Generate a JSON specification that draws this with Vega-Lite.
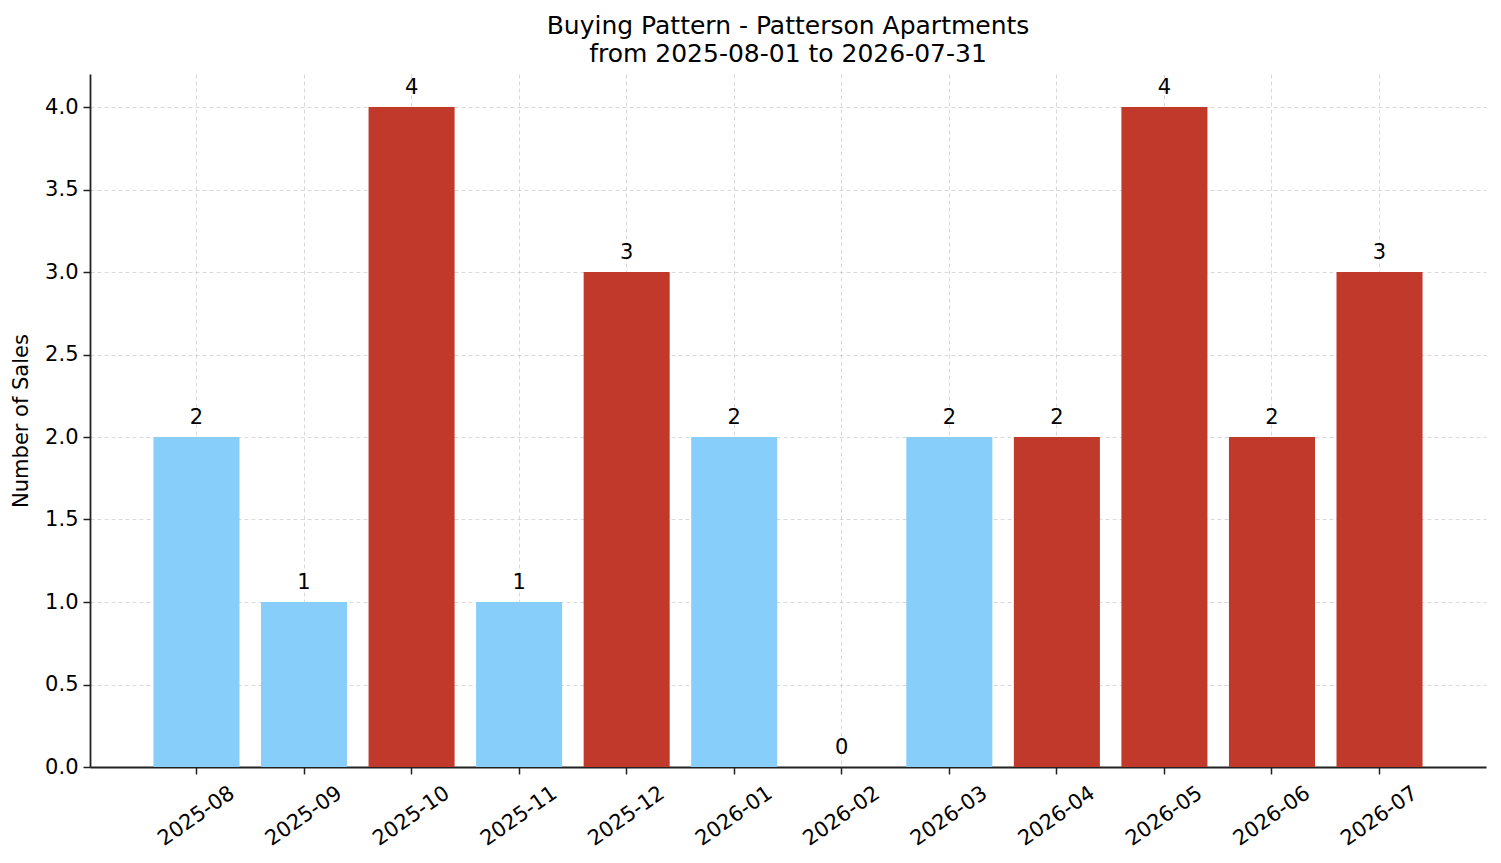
{
  "$schema": "https://vega.github.io/schema/vega-lite/v6.json",
  "width": 1396,
  "height": 693,
  "autosize": {"type": "none"},
  "padding": {"left": 90, "top": 74, "right": 15, "bottom": 96},
  "background": "white",
  "title": {
    "text": ["Buying Pattern - Patterson Apartments", "from 2025-08-01 to 2026-07-31"],
    "font": "DejaVu Sans",
    "fontSize": 25,
    "fontWeight": "normal",
    "lineHeight": 28,
    "color": "black",
    "anchor": "middle",
    "frame": "group",
    "offset": 7
  },
  "data": {
    "values": [
      {"month": "2025-08", "sales": 2, "category": "low"},
      {"month": "2025-09", "sales": 1, "category": "low"},
      {"month": "2025-10", "sales": 4, "category": "high"},
      {"month": "2025-11", "sales": 1, "category": "low"},
      {"month": "2025-12", "sales": 3, "category": "high"},
      {"month": "2026-01", "sales": 2, "category": "low"},
      {"month": "2026-02", "sales": 0, "category": "low"},
      {"month": "2026-03", "sales": 2, "category": "low"},
      {"month": "2026-04", "sales": 2, "category": "high"},
      {"month": "2026-05", "sales": 4, "category": "high"},
      {"month": "2026-06", "sales": 2, "category": "high"},
      {"month": "2026-07", "sales": 3, "category": "high"}
    ]
  },
  "encoding": {
    "x": {
      "field": "month",
      "type": "ordinal",
      "sort": null,
      "scale": {"paddingInner": 0.2, "paddingOuter": 0.59},
      "axis": {
        "title": null,
        "labelAngle": -35,
        "labelAlign": "center",
        "labelBaseline": "middle",
        "labelPadding": 42,
        "grid": true
      }
    },
    "y": {
      "field": "sales",
      "type": "quantitative",
      "scale": {"domain": [0, 4.2], "nice": false, "zero": true},
      "axis": {
        "title": "Number of Sales",
        "values": [0, 0.5, 1, 1.5, 2, 2.5, 3, 3.5, 4],
        "format": ".1f",
        "titlePadding": 13,
        "grid": true
      }
    }
  },
  "layer": [
    {
      "mark": {"type": "bar"},
      "encoding": {
        "color": {
          "field": "category",
          "type": "nominal",
          "scale": {"domain": ["low", "high"], "range": ["#87CEFA", "#C0392B"]},
          "legend": null
        }
      }
    },
    {
      "mark": {"type": "text", "baseline": "alphabetic", "dy": -13, "fontSize": 21, "font": "DejaVu Sans", "color": "black"},
      "encoding": {"text": {"field": "sales", "type": "quantitative"}}
    }
  ],
  "config": {
    "view": {"stroke": null},
    "axis": {
      "zindex": 1,
      "labelFont": "DejaVu Sans",
      "labelFontSize": 21,
      "labelColor": "black",
      "titleFont": "DejaVu Sans",
      "titleFontSize": 21,
      "titleFontWeight": "normal",
      "titleColor": "black",
      "domainColor": "#222222",
      "domainWidth": 1.8,
      "tickColor": "#222222",
      "tickSize": 7,
      "tickWidth": 1.5,
      "labelPadding": 5,
      "gridColor": "#b8b8b8",
      "gridOpacity": 0.6,
      "gridDash": [4, 3],
      "gridWidth": 0.9
    }
  }
}
